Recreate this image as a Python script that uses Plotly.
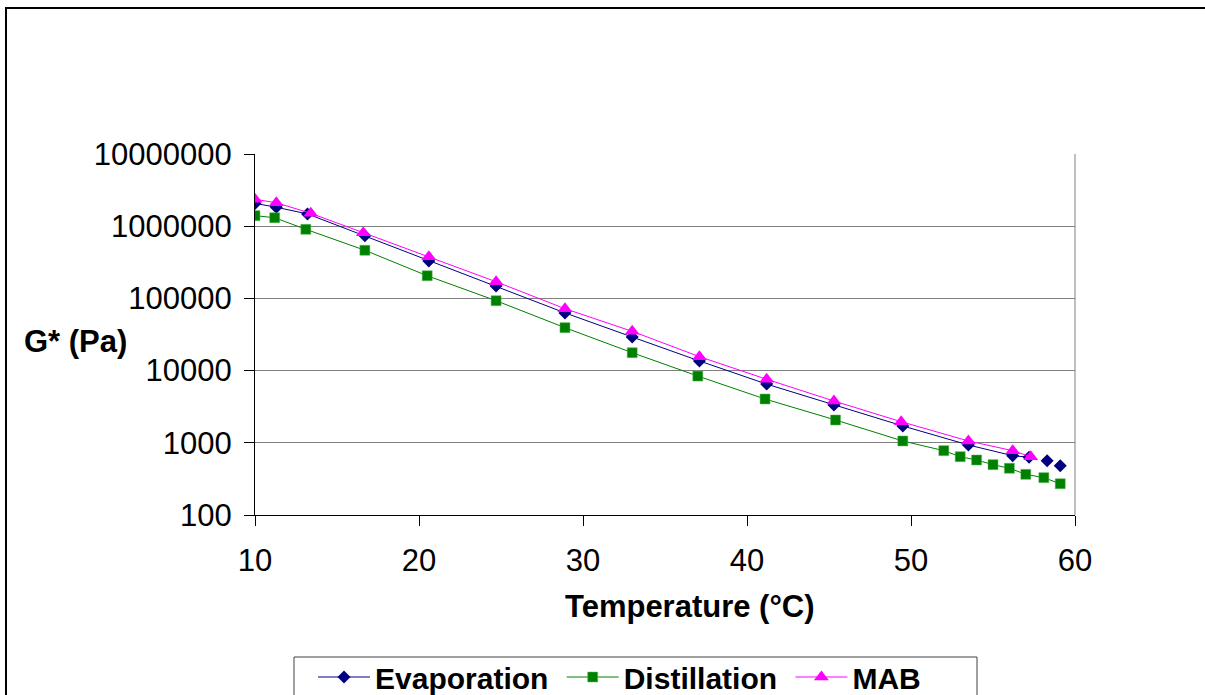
import plotly.graph_objects as go

# Evaporation
evap_t = [10.0, 11.3, 13.2, 16.7, 20.6, 24.7, 28.9, 33.0, 37.1, 41.2, 45.3, 49.5, 53.5, 56.2, 57.2, 58.3, 59.1]
evap_g = [2.07e6, 1.83e6, 1.48e6, 7.35e5, 3.3e5, 1.49e5, 6.3e4, 2.92e4, 1.36e4, 6.5e3, 3.34e3, 1.71e3, 933, 663, 631, 565, 482]
evap_line_n = 15  # connecting line covers the first points only

# Distillation
dist_t = [10.0, 11.2, 13.1, 16.7, 20.5, 24.7, 28.9, 33.0, 37.0, 41.1, 45.4, 49.5, 52.0, 53.0, 54.0, 55.0, 56.0, 57.0, 58.1, 59.1]
dist_g = [1.40e6, 1.31e6, 9.06e5, 4.64e5, 2.06e5, 9.29e4, 3.93e4, 1.77e4, 8.4e3, 4.04e3, 2.07e3, 1.06e3, 778, 642, 578, 498, 444, 366, 329, 271]

# MAB
mab_t = [10.0, 11.3, 13.4, 16.6, 20.6, 24.7, 28.9, 33.0, 37.1, 41.2, 45.3, 49.4, 53.5, 56.2, 57.3]
mab_g = [2.36e6, 2.11e6, 1.51e6, 8.13e5, 3.78e5, 1.70e5, 7.2e4, 3.5e4, 1.56e4, 7.58e3, 3.79e3, 1.96e3, 1.06e3, 778, 642]

series_names = ["Evaporation", "Distillation", "MAB"]

y_tickvals = [100, 1000, 10000, 100000, 1000000, 10000000]
y_ticktext = ["100", "1000", "10000", "100000", "1000000", "10000000"]
x_tickvals = [10, 20, 30, 40, 50, 60]

FONT = "Arial, Liberation Sans, sans-serif"
NAVY = "#000080"
GREEN = "#008000"
MAGENTA = "#FF00FF"
SP = "\u00a0"

fig = go.Figure()
fig.add_trace(go.Scatter(
    x=evap_t[:evap_line_n], y=evap_g[:evap_line_n], mode="lines+markers", name=series_names[0] + SP,
    line=dict(color=NAVY, width=1),
    marker=dict(symbol="diamond", size=10, color=NAVY),
))
fig.add_trace(go.Scatter(
    x=evap_t[evap_line_n:], y=evap_g[evap_line_n:], mode="markers", showlegend=False,
    marker=dict(symbol="diamond", size=10, color=NAVY),
))
fig.add_trace(go.Scatter(
    x=dist_t, y=dist_g, mode="lines+markers", name=series_names[1] + SP,
    line=dict(color=GREEN, width=1),
    marker=dict(symbol="square", size=10, color=GREEN, line=dict(color="#5cb85c", width=0.5)),
))
fig.add_trace(go.Scatter(
    x=mab_t, y=mab_g, mode="lines+markers", name=series_names[2],
    line=dict(color=MAGENTA, width=1),
    marker=dict(symbol="triangle-up", size=13, color=MAGENTA),
))

W, H = 1205, 695
L, R, T, B = 255, 130, 154, 180
pw, ph = W - L - R, H - T - B

def px(xp):
    return (xp - L) / pw

def py(yp):
    return (H - B - yp) / ph

fig.update_layout(
    width=W, height=H,
    margin=dict(l=L, r=R, t=T, b=B, autoexpand=False),
    paper_bgcolor="white", plot_bgcolor="white",
    font=dict(family=FONT, color="black"),
    xaxis=dict(
        range=[10, 60], tickvals=x_tickvals, ticks="outside", ticklen=10, tickcolor="black",
        showline=True, linecolor="black", linewidth=1, showgrid=False, zeroline=False,
        tickfont=dict(size=31, family=FONT, color="black"), ticklabelstandoff=8,
    ),
    yaxis=dict(
        type="log", range=[2, 7], tickvals=y_tickvals, ticktext=y_ticktext,
        ticks="outside", ticklen=10, tickcolor="black",
        showline=True, linecolor="black", linewidth=1,
        showgrid=True, gridcolor="#808080", gridwidth=1, zeroline=False,
        tickfont=dict(size=31, family=FONT, color="black"), ticklabelstandoff=6,
    ),
    showlegend=True,
    legend=dict(
        orientation="h", x=px(313), y=py(651), xanchor="left", yanchor="top",
        borderwidth=0, bgcolor="rgba(0,0,0,0)",
        font=dict(size=30, family=FONT, color="black", weight="bold"),
        itemsizing="trace", itemwidth=52,
    ),
    annotations=[
        dict(text="<b>G* (Pa)</b>", x=px(75), y=py(341), xref="paper", yref="paper",
             xanchor="center", yanchor="middle", showarrow=False,
             font=dict(size=31, family=FONT, color="black")),
        dict(text="<b>Temperature (°C)</b>", x=px(690), y=py(606), xref="paper", yref="paper",
             xanchor="center", yanchor="middle", showarrow=False,
             font=dict(size=31, family=FONT, color="black")),
    ],
    shapes=[
        dict(type="rect", xref="paper", yref="paper", x0=px(6), x1=px(1230), y0=py(720), y1=py(8),
             line=dict(color="black", width=2), fillcolor="rgba(0,0,0,0)", layer="below"),
        dict(type="line", xref="paper", yref="paper", x0=1, x1=1, y0=0, y1=1,
             line=dict(color="#808080", width=1)),
        dict(type="rect", xref="paper", yref="paper", x0=px(294), x1=px(977), y0=py(720), y1=py(657),
             line=dict(color="#404040", width=1), fillcolor="white", layer="above"),
    ],
)

fig.write_html(
    "out.html",
    config={"displayModeBar": False},
    post_script="document.body.style.margin='0px';document.body.style.overflow='hidden';",
)
